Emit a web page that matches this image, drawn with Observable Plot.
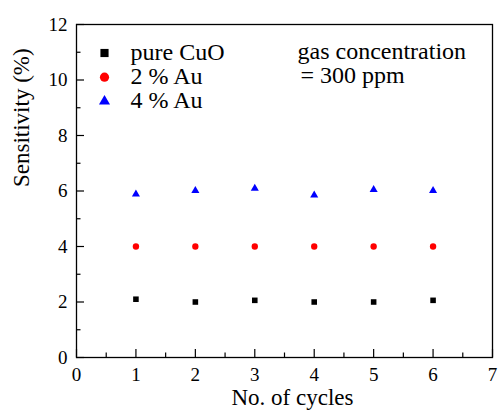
<!DOCTYPE html>
<html>
<head>
<meta charset="utf-8">
<script src="https://cdn.jsdelivr.net/npm/d3@7"></script>
<script src="https://cdn.jsdelivr.net/npm/@observablehq/plot@0.6"></script>
<style>
  html, body { margin: 0; padding: 0; background: #fff; }
  #chart svg { display: block; }
  #chart svg text { font-family: 'Liberation Serif', 'Times New Roman', serif; }
</style>
</head>
<body>
<div id="chart"></div>
<script>
// Measurement cycles
const cycles = [1, 2, 3, 4, 5, 6];

// Sensitivity (%) per cycle for each sample
const seriesNames = ["pure CuO", "2 % Au", "4 % Au"];
const pureCuO = [2.1, 2.0, 2.06, 2.0, 2.0, 2.06];
const au2 = [4.0, 4.0, 4.0, 4.0, 4.0, 4.0];
const au4 = [5.89, 6.01, 6.09, 5.85, 6.05, 6.01];

// Axis ticks
const xMajor = [0, 1, 2, 3, 4, 5, 6, 7];
const xMinor = [0.5, 1.5, 2.5, 3.5, 4.5, 5.5, 6.5];
const yMajor = [0, 2, 4, 6, 8, 10, 12];
const yMinor = [1, 3, 5, 7, 9, 11];

const note = ["gas concentration", "= 300 ppm"];

// Long table built from the arrays above
const seriesValues = [pureCuO, au2, au4];
const points = seriesNames.flatMap((name, s) =>
  cycles.map((c, i) => ({cycle: c, value: seriesValues[s][i], series: name}))
);

const W = 499, H = 410;
const mL = 76, mR = 7, mT = 24, mB = 53;
const plotW = W - mL - mR, plotH = H - mT - mB;
const majorLen = 8, minorLen = 4.5;
const font = "'Liberation Serif', 'Times New Roman', serif";

const legendMarks = seriesNames.flatMap((name, i) => [
  Plot.dot([name], {
    frameAnchor: "top-left", dx: 28, dy: 28.5 + 24.2 * i,
    fill: d => d, symbol: d => d, r: i === 2 ? 4.1 : 4.6
  }),
  Plot.text([name], {
    frameAnchor: "top-left", dx: 54, dy: 27.5 + 24.2 * i,
    text: d => d, textAnchor: "start", lineAnchor: "middle",
    fontSize: 24, fontFamily: font, fill: "black"
  })
]);

const chart = Plot.plot({
  width: W,
  height: H,
  marginLeft: mL,
  marginRight: mR,
  marginTop: mT,
  marginBottom: mB,
  style: {fontFamily: font, fontSize: "19px", color: "black", background: "white"},
  x: {domain: [0, 7], axis: null},
  y: {domain: [0, 12], axis: null},
  color: {domain: seriesNames, range: ["#000000", "#ff0000", "#0000ff"]},
  symbol: {domain: seriesNames, range: ["square", "circle", "triangle"]},
  marks: [
    // inward-pointing ticks
    Plot.tickX(xMajor, {x: d => d, insetTop: plotH - majorLen, stroke: "black", strokeWidth: 1.2}),
    Plot.tickX(xMinor, {x: d => d, insetTop: plotH - minorLen, stroke: "black", strokeWidth: 1.2}),
    Plot.tickY(yMajor, {y: d => d, insetRight: plotW - majorLen, stroke: "black", strokeWidth: 1.2}),
    Plot.tickY(yMinor, {y: d => d, insetRight: plotW - minorLen, stroke: "black", strokeWidth: 1.2}),
    // tick labels
    Plot.axisX(xMajor, {tickSize: 0, tickPadding: 10, tickFormat: d => d, label: null, fontSize: 19, fontFamily: font}),
    Plot.axisY(yMajor, {tickSize: 0, tickPadding: 9, tickFormat: d => d, label: null, fontSize: 19, fontFamily: font}),
    Plot.frame({stroke: "black", strokeWidth: 1.3}),
    // data
    Plot.dot(points, {
      x: "cycle", y: "value", fill: "series", symbol: "series",
      r: d => d.series === "4 % Au" ? 4.1 : (d.series === "pure CuO" ? 4.5 : 4.6)
    }),
    ...legendMarks,
    Plot.text([note[0]], {frameAnchor: "top-left", dx: 221, dy: 27, text: d => d,
      textAnchor: "start", lineAnchor: "middle", fontSize: 24, fontFamily: font, fill: "black"}),
    Plot.text([note[1]], {frameAnchor: "top-left", dx: 224, dy: 51, text: d => d,
      textAnchor: "start", lineAnchor: "middle", fontSize: 24, fontFamily: font, fill: "black"}),
    // axis titles
    Plot.text(["No. of cycles"], {frameAnchor: "bottom", dx: 8, dy: 40, text: d => d,
      lineAnchor: "middle", fontSize: 23, fontFamily: font, fill: "black"}),
    Plot.text(["Sensitivity (%)"], {frameAnchor: "left", dx: -55, dy: -4, rotate: -90, text: d => d,
      lineAnchor: "middle", fontSize: 23, fontFamily: font, fill: "black"})
  ]
});

document.getElementById("chart").appendChild(chart);
</script>
</body>
</html>
